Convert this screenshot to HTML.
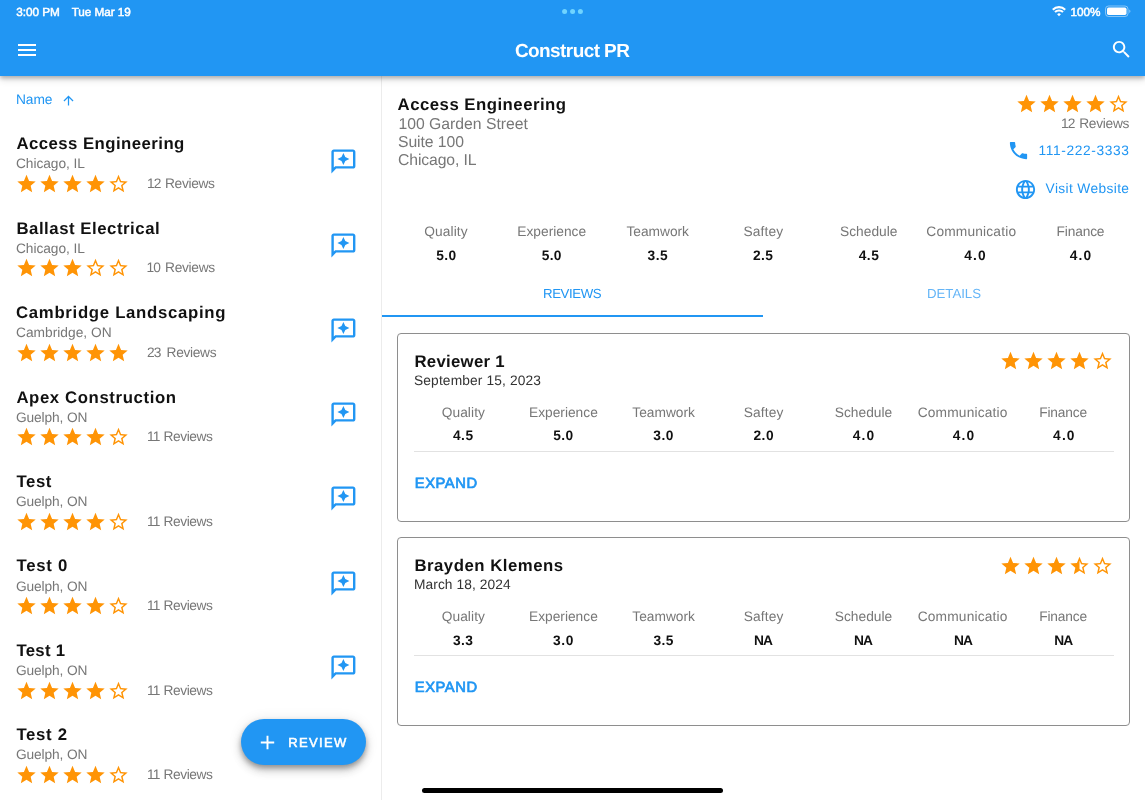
<!DOCTYPE html>
<html lang="en">
<head>
<meta charset="utf-8">
<title>Construct PR</title>
<style>
*{box-sizing:border-box;margin:0;padding:0}
html,body{width:1145px;height:800px;overflow:hidden;background:#fff}
body{font-family:"Liberation Sans",sans-serif;color:#111;position:relative;text-rendering:geometricPrecision}
.abs{position:absolute}
.t{position:absolute;white-space:nowrap;line-height:20px}
svg{display:block}
#hdr{position:absolute;left:0;top:0;width:1145px;height:76px;background:#2196f3;box-shadow:0 2px 4px rgba(0,0,0,.24),0 4px 7px rgba(0,0,0,.13)}
#vdiv{position:absolute;left:381px;top:76px;width:1px;height:724px;background:#ececec}
.card{position:absolute;left:397px;width:733px;height:188.500px;border:1px solid #8e8e8e;border-radius:4px;background:#fff}
.hr{position:absolute;left:413.500px;width:700px;height:1px;background:#e2e2e2}
#fab{position:absolute;left:241px;top:719.200px;width:125px;height:45.800px;border-radius:23px;background:#2196f3;box-shadow:0 3px 5px rgba(0,0,0,.28),0 6px 10px rgba(0,0,0,.16),0 1px 14px rgba(0,0,0,.1)}
#home{position:absolute;left:421.500px;top:787.500px;width:301.500px;height:5px;border-radius:2.500px;background:#000}
</style>
</head>
<body>
<div class="t" style="left:16px;top:90px;font-size:13.75px;letter-spacing:-0.1px;color:#2196f3">Name</div>
<svg class="abs" style="left:61.1px;top:93.1px" width="15" height="15" viewBox="0 0 24 24" fill="#2196f3"><path d="M4 12l1.410 1.410L11 7.830V20h2V7.830l5.580 5.590L20 12l-8-8-8 8z"/></svg>
<div class="t" style="left:16.4px;top:134px;font-size:16.75px;letter-spacing:0.46px;color:#111;font-weight:bold">Access Engineering</div><div class="t" style="left:16px;top:154px;font-size:13.75px;letter-spacing:-0.06px;color:#777">Chicago, IL</div><svg class="abs" style="left:15.3px;top:173px" width="115" height="22" viewBox="0 0 125.455 24" fill="#ff9405"><path transform="translate(0.545 0)" d="M12 17.27L18.18 21l-1.64-7.03L22 9.24l-7.19-.61L12 2 9.19 8.63 2 9.24l5.46 4.73L5.82 21z"/><path transform="translate(25.636 0)" d="M12 17.27L18.18 21l-1.64-7.03L22 9.24l-7.19-.61L12 2 9.19 8.63 2 9.24l5.46 4.73L5.82 21z"/><path transform="translate(50.727 0)" d="M12 17.27L18.18 21l-1.64-7.03L22 9.24l-7.19-.61L12 2 9.19 8.63 2 9.24l5.46 4.73L5.82 21z"/><path transform="translate(75.818 0)" d="M12 17.27L18.18 21l-1.64-7.03L22 9.24l-7.19-.61L12 2 9.19 8.63 2 9.24l5.46 4.73L5.82 21z"/><path transform="translate(100.909 0)" d="M22 9.24l-7.19-.62L12 2 9.19 8.63 2 9.24l5.46 4.73L5.82 21 12 17.27 18.18 21l-1.63-7.03L22 9.24zM12 15.4l-3.76 2.27 1-4.28-3.32-2.88 4.38-.38L12 6.1l1.71 4.04 4.38.38-3.32 2.88 1 4.28L12 15.4z"/></svg><div class="t" style="left:147px;top:174px;font-size:13.75px;color:#777"><span style="letter-spacing:-1px">12</span><span style="letter-spacing:-0.33px;margin-left:1.21px"> Reviews</span></div><svg class="abs" style="left:328.9px;top:146.6px" width="28.8" height="28.8" viewBox="0 0 24 24" fill="#2196f3"><path d="M20 2H4c-1.1 0-2 .9-2 2v18l4-4h14c1.1 0 2-.9 2-2V4c0-1.1-.9-2-2-2zm0 14H5.17L4 17.17V4h16v12z"/><path d="M12 15l1.57-3.43L17 10l-3.43-1.57L12 5l-1.57 3.43L7 10l3.43 1.570z"/></svg>
<div class="t" style="left:16.4px;top:219px;font-size:16.75px;letter-spacing:0.54px;color:#111;font-weight:bold">Ballast Electrical</div><div class="t" style="left:16px;top:239px;font-size:13.75px;letter-spacing:-0.06px;color:#777">Chicago, IL</div><svg class="abs" style="left:15.3px;top:257.4px" width="115" height="22" viewBox="0 0 125.455 24" fill="#ff9405"><path transform="translate(0.545 0)" d="M12 17.27L18.18 21l-1.64-7.03L22 9.24l-7.19-.61L12 2 9.19 8.63 2 9.24l5.46 4.73L5.82 21z"/><path transform="translate(25.636 0)" d="M12 17.27L18.18 21l-1.64-7.03L22 9.24l-7.19-.61L12 2 9.19 8.63 2 9.24l5.46 4.73L5.82 21z"/><path transform="translate(50.727 0)" d="M12 17.27L18.18 21l-1.64-7.03L22 9.24l-7.19-.61L12 2 9.19 8.63 2 9.24l5.46 4.73L5.82 21z"/><path transform="translate(75.818 0)" d="M22 9.24l-7.19-.62L12 2 9.19 8.63 2 9.24l5.46 4.73L5.82 21 12 17.27 18.18 21l-1.63-7.03L22 9.24zM12 15.4l-3.76 2.27 1-4.28-3.32-2.88 4.38-.38L12 6.1l1.71 4.04 4.38.38-3.32 2.88 1 4.28L12 15.4z"/><path transform="translate(100.909 0)" d="M22 9.24l-7.19-.62L12 2 9.19 8.63 2 9.24l5.46 4.73L5.82 21 12 17.27 18.18 21l-1.63-7.03L22 9.24zM12 15.4l-3.76 2.27 1-4.28-3.32-2.88 4.38-.38L12 6.1l1.71 4.04 4.38.38-3.32 2.88 1 4.28L12 15.4z"/></svg><div class="t" style="left:146.6px;top:258px;font-size:13.75px;color:#777"><span style="letter-spacing:-1px">10</span><span style="letter-spacing:-0.29px;margin-left:1.58px"> Reviews</span></div><svg class="abs" style="left:328.9px;top:231px" width="28.8" height="28.8" viewBox="0 0 24 24" fill="#2196f3"><path d="M20 2H4c-1.1 0-2 .9-2 2v18l4-4h14c1.1 0 2-.9 2-2V4c0-1.1-.9-2-2-2zm0 14H5.17L4 17.17V4h16v12z"/><path d="M12 15l1.57-3.43L17 10l-3.43-1.57L12 5l-1.57 3.43L7 10l3.43 1.570z"/></svg>
<div class="t" style="left:16px;top:303px;font-size:16.75px;letter-spacing:0.7px;color:#111;font-weight:bold">Cambridge Landscaping</div><div class="t" style="left:16px;top:323px;font-size:13.75px;letter-spacing:0.01px;color:#777">Cambridge, ON</div><svg class="abs" style="left:15.3px;top:341.9px" width="115" height="22" viewBox="0 0 125.455 24" fill="#ff9405"><path transform="translate(0.545 0)" d="M12 17.27L18.18 21l-1.64-7.03L22 9.24l-7.19-.61L12 2 9.19 8.63 2 9.24l5.46 4.73L5.82 21z"/><path transform="translate(25.636 0)" d="M12 17.27L18.18 21l-1.64-7.03L22 9.24l-7.19-.61L12 2 9.19 8.63 2 9.24l5.46 4.73L5.82 21z"/><path transform="translate(50.727 0)" d="M12 17.27L18.18 21l-1.64-7.03L22 9.24l-7.19-.61L12 2 9.19 8.63 2 9.24l5.46 4.73L5.82 21z"/><path transform="translate(75.818 0)" d="M12 17.27L18.18 21l-1.64-7.03L22 9.24l-7.19-.61L12 2 9.19 8.63 2 9.24l5.46 4.73L5.82 21z"/><path transform="translate(100.909 0)" d="M12 17.27L18.18 21l-1.64-7.03L22 9.24l-7.19-.61L12 2 9.19 8.63 2 9.24l5.46 4.73L5.82 21z"/></svg><div class="t" style="left:147px;top:343px;font-size:13.75px;color:#777"><span style="letter-spacing:-1px">23</span><span style="letter-spacing:-0.33px;margin-left:2.81px"> Reviews</span></div><svg class="abs" style="left:328.9px;top:315.5px" width="28.8" height="28.8" viewBox="0 0 24 24" fill="#2196f3"><path d="M20 2H4c-1.1 0-2 .9-2 2v18l4-4h14c1.1 0 2-.9 2-2V4c0-1.1-.9-2-2-2zm0 14H5.17L4 17.17V4h16v12z"/><path d="M12 15l1.57-3.43L17 10l-3.43-1.57L12 5l-1.57 3.43L7 10l3.43 1.570z"/></svg>
<div class="t" style="left:16.4px;top:388px;font-size:16.75px;letter-spacing:0.61px;color:#111;font-weight:bold">Apex Construction</div><div class="t" style="left:16px;top:408px;font-size:13.75px;letter-spacing:-0.13px;color:#777">Guelph, ON</div><svg class="abs" style="left:15.3px;top:426.3px" width="115" height="22" viewBox="0 0 125.455 24" fill="#ff9405"><path transform="translate(0.545 0)" d="M12 17.27L18.18 21l-1.64-7.03L22 9.24l-7.19-.61L12 2 9.19 8.63 2 9.24l5.46 4.73L5.82 21z"/><path transform="translate(25.636 0)" d="M12 17.27L18.18 21l-1.64-7.03L22 9.24l-7.19-.61L12 2 9.19 8.63 2 9.24l5.46 4.73L5.82 21z"/><path transform="translate(50.727 0)" d="M12 17.27L18.18 21l-1.64-7.03L22 9.24l-7.19-.61L12 2 9.19 8.63 2 9.24l5.46 4.73L5.82 21z"/><path transform="translate(75.818 0)" d="M12 17.27L18.18 21l-1.64-7.03L22 9.24l-7.19-.61L12 2 9.19 8.63 2 9.24l5.46 4.73L5.82 21z"/><path transform="translate(100.909 0)" d="M22 9.24l-7.19-.62L12 2 9.19 8.63 2 9.24l5.46 4.73L5.82 21 12 17.27 18.18 21l-1.63-7.03L22 9.24zM12 15.4l-3.76 2.27 1-4.28-3.32-2.88 4.38-.38L12 6.1l1.71 4.04 4.38.38-3.32 2.88 1 4.28L12 15.4z"/></svg><div class="t" style="left:147px;top:427px;font-size:13.75px;color:#777"><span style="letter-spacing:-1px">11</span><span style="letter-spacing:-0.41px;margin-left:0.78px"> Reviews</span></div><svg class="abs" style="left:328.9px;top:399.9px" width="28.8" height="28.8" viewBox="0 0 24 24" fill="#2196f3"><path d="M20 2H4c-1.1 0-2 .9-2 2v18l4-4h14c1.1 0 2-.9 2-2V4c0-1.1-.9-2-2-2zm0 14H5.17L4 17.17V4h16v12z"/><path d="M12 15l1.57-3.43L17 10l-3.43-1.57L12 5l-1.57 3.43L7 10l3.43 1.570z"/></svg>
<div class="t" style="left:16.4px;top:472px;font-size:16.75px;letter-spacing:0.6px;color:#111;font-weight:bold">Test</div><div class="t" style="left:16px;top:492px;font-size:13.75px;letter-spacing:-0.13px;color:#777">Guelph, ON</div><svg class="abs" style="left:15.3px;top:510.8px" width="115" height="22" viewBox="0 0 125.455 24" fill="#ff9405"><path transform="translate(0.545 0)" d="M12 17.27L18.18 21l-1.64-7.03L22 9.24l-7.19-.61L12 2 9.19 8.63 2 9.24l5.46 4.73L5.82 21z"/><path transform="translate(25.636 0)" d="M12 17.27L18.18 21l-1.64-7.03L22 9.24l-7.19-.61L12 2 9.19 8.63 2 9.24l5.46 4.73L5.82 21z"/><path transform="translate(50.727 0)" d="M12 17.27L18.18 21l-1.64-7.03L22 9.24l-7.19-.61L12 2 9.19 8.63 2 9.24l5.46 4.73L5.82 21z"/><path transform="translate(75.818 0)" d="M12 17.27L18.18 21l-1.64-7.03L22 9.24l-7.19-.61L12 2 9.19 8.63 2 9.24l5.46 4.73L5.82 21z"/><path transform="translate(100.909 0)" d="M22 9.24l-7.19-.62L12 2 9.19 8.63 2 9.24l5.46 4.73L5.82 21 12 17.27 18.18 21l-1.63-7.03L22 9.24zM12 15.4l-3.76 2.27 1-4.28-3.32-2.88 4.38-.38L12 6.1l1.71 4.04 4.38.38-3.32 2.88 1 4.28L12 15.4z"/></svg><div class="t" style="left:147px;top:512px;font-size:13.75px;color:#777"><span style="letter-spacing:-1px">11</span><span style="letter-spacing:-0.41px;margin-left:0.78px"> Reviews</span></div><svg class="abs" style="left:328.9px;top:484.4px" width="28.8" height="28.8" viewBox="0 0 24 24" fill="#2196f3"><path d="M20 2H4c-1.1 0-2 .9-2 2v18l4-4h14c1.1 0 2-.9 2-2V4c0-1.1-.9-2-2-2zm0 14H5.17L4 17.17V4h16v12z"/><path d="M12 15l1.57-3.43L17 10l-3.43-1.57L12 5l-1.57 3.43L7 10l3.43 1.570z"/></svg>
<div class="t" style="left:16.4px;top:556px;font-size:16.75px;letter-spacing:0.77px;color:#111;font-weight:bold">Test 0</div><div class="t" style="left:16px;top:577px;font-size:13.75px;letter-spacing:-0.13px;color:#777">Guelph, ON</div><svg class="abs" style="left:15.3px;top:595.2px" width="115" height="22" viewBox="0 0 125.455 24" fill="#ff9405"><path transform="translate(0.545 0)" d="M12 17.27L18.18 21l-1.64-7.03L22 9.24l-7.19-.61L12 2 9.19 8.63 2 9.24l5.46 4.73L5.82 21z"/><path transform="translate(25.636 0)" d="M12 17.27L18.18 21l-1.64-7.03L22 9.24l-7.19-.61L12 2 9.19 8.63 2 9.24l5.46 4.73L5.82 21z"/><path transform="translate(50.727 0)" d="M12 17.27L18.18 21l-1.64-7.03L22 9.24l-7.19-.61L12 2 9.19 8.63 2 9.24l5.46 4.73L5.82 21z"/><path transform="translate(75.818 0)" d="M12 17.27L18.18 21l-1.64-7.03L22 9.24l-7.19-.61L12 2 9.19 8.63 2 9.24l5.46 4.73L5.82 21z"/><path transform="translate(100.909 0)" d="M22 9.24l-7.19-.62L12 2 9.19 8.63 2 9.24l5.46 4.73L5.82 21 12 17.27 18.18 21l-1.63-7.03L22 9.24zM12 15.4l-3.76 2.27 1-4.28-3.32-2.88 4.38-.38L12 6.1l1.71 4.04 4.38.38-3.32 2.88 1 4.28L12 15.4z"/></svg><div class="t" style="left:147px;top:596px;font-size:13.75px;color:#777"><span style="letter-spacing:-1px">11</span><span style="letter-spacing:-0.41px;margin-left:0.78px"> Reviews</span></div><svg class="abs" style="left:328.9px;top:568.8px" width="28.8" height="28.8" viewBox="0 0 24 24" fill="#2196f3"><path d="M20 2H4c-1.1 0-2 .9-2 2v18l4-4h14c1.1 0 2-.9 2-2V4c0-1.1-.9-2-2-2zm0 14H5.17L4 17.17V4h16v12z"/><path d="M12 15l1.57-3.43L17 10l-3.43-1.57L12 5l-1.57 3.43L7 10l3.43 1.570z"/></svg>
<div class="t" style="left:16.4px;top:641px;font-size:16.75px;letter-spacing:0.29px;color:#111;font-weight:bold">Test 1</div><div class="t" style="left:16px;top:661px;font-size:13.75px;letter-spacing:-0.13px;color:#777">Guelph, ON</div><svg class="abs" style="left:15.3px;top:679.6px" width="115" height="22" viewBox="0 0 125.455 24" fill="#ff9405"><path transform="translate(0.545 0)" d="M12 17.27L18.18 21l-1.64-7.03L22 9.24l-7.19-.61L12 2 9.19 8.63 2 9.24l5.46 4.73L5.82 21z"/><path transform="translate(25.636 0)" d="M12 17.27L18.18 21l-1.64-7.03L22 9.24l-7.19-.61L12 2 9.19 8.63 2 9.24l5.46 4.73L5.82 21z"/><path transform="translate(50.727 0)" d="M12 17.27L18.18 21l-1.64-7.03L22 9.24l-7.19-.61L12 2 9.19 8.63 2 9.24l5.46 4.73L5.82 21z"/><path transform="translate(75.818 0)" d="M12 17.27L18.18 21l-1.64-7.03L22 9.24l-7.19-.61L12 2 9.19 8.63 2 9.24l5.46 4.73L5.82 21z"/><path transform="translate(100.909 0)" d="M22 9.24l-7.19-.62L12 2 9.19 8.63 2 9.24l5.46 4.73L5.82 21 12 17.27 18.18 21l-1.63-7.03L22 9.24zM12 15.4l-3.76 2.27 1-4.28-3.32-2.88 4.38-.38L12 6.1l1.71 4.04 4.38.38-3.32 2.88 1 4.28L12 15.4z"/></svg><div class="t" style="left:147px;top:681px;font-size:13.75px;color:#777"><span style="letter-spacing:-1px">11</span><span style="letter-spacing:-0.41px;margin-left:0.78px"> Reviews</span></div><svg class="abs" style="left:328.9px;top:653.2px" width="28.8" height="28.8" viewBox="0 0 24 24" fill="#2196f3"><path d="M20 2H4c-1.1 0-2 .9-2 2v18l4-4h14c1.1 0 2-.9 2-2V4c0-1.1-.9-2-2-2zm0 14H5.17L4 17.17V4h16v12z"/><path d="M12 15l1.57-3.43L17 10l-3.43-1.57L12 5l-1.57 3.43L7 10l3.43 1.570z"/></svg>
<div class="t" style="left:16.4px;top:725px;font-size:16.75px;letter-spacing:0.69px;color:#111;font-weight:bold">Test 2</div><div class="t" style="left:16px;top:745px;font-size:13.75px;letter-spacing:-0.13px;color:#777">Guelph, ON</div><svg class="abs" style="left:15.3px;top:764.1px" width="115" height="22" viewBox="0 0 125.455 24" fill="#ff9405"><path transform="translate(0.545 0)" d="M12 17.27L18.18 21l-1.64-7.03L22 9.24l-7.19-.61L12 2 9.19 8.63 2 9.24l5.46 4.73L5.82 21z"/><path transform="translate(25.636 0)" d="M12 17.27L18.18 21l-1.64-7.03L22 9.24l-7.19-.61L12 2 9.19 8.63 2 9.24l5.46 4.73L5.82 21z"/><path transform="translate(50.727 0)" d="M12 17.27L18.18 21l-1.64-7.03L22 9.24l-7.19-.61L12 2 9.19 8.63 2 9.24l5.46 4.73L5.82 21z"/><path transform="translate(75.818 0)" d="M12 17.27L18.18 21l-1.64-7.03L22 9.24l-7.19-.61L12 2 9.19 8.63 2 9.24l5.46 4.73L5.82 21z"/><path transform="translate(100.909 0)" d="M22 9.24l-7.19-.62L12 2 9.19 8.63 2 9.24l5.46 4.73L5.82 21 12 17.27 18.18 21l-1.63-7.03L22 9.24zM12 15.4l-3.76 2.27 1-4.28-3.32-2.88 4.38-.38L12 6.1l1.71 4.04 4.38.38-3.32 2.88 1 4.28L12 15.4z"/></svg><div class="t" style="left:147px;top:765px;font-size:13.75px;color:#777"><span style="letter-spacing:-1px">11</span><span style="letter-spacing:-0.41px;margin-left:0.78px"> Reviews</span></div>
<div id="vdiv"></div>
<div class="t" style="left:397.6px;top:95px;font-size:16.75px;letter-spacing:0.49px;color:#111;font-weight:bold">Access Engineering</div>
<div class="t" style="left:398.4px;top:115px;font-size:15.75px;letter-spacing:0px;color:#777">100 Garden Street</div><div class="t" style="left:398px;top:133px;font-size:15.75px;letter-spacing:-0.07px;color:#777">Suite 100</div><div class="t" style="left:398px;top:151px;font-size:15.75px;letter-spacing:-0.11px;color:#777">Chicago, IL</div>
<svg class="abs" style="left:1015.1px;top:92.8px" width="115" height="22" viewBox="0 0 125.455 24" fill="#ff9405"><path transform="translate(0.545 0)" d="M12 17.27L18.18 21l-1.64-7.03L22 9.24l-7.19-.61L12 2 9.19 8.63 2 9.24l5.46 4.73L5.82 21z"/><path transform="translate(25.636 0)" d="M12 17.27L18.18 21l-1.64-7.03L22 9.24l-7.19-.61L12 2 9.19 8.63 2 9.24l5.46 4.73L5.82 21z"/><path transform="translate(50.727 0)" d="M12 17.27L18.18 21l-1.64-7.03L22 9.24l-7.19-.61L12 2 9.19 8.63 2 9.24l5.46 4.73L5.82 21z"/><path transform="translate(75.818 0)" d="M12 17.27L18.18 21l-1.64-7.03L22 9.24l-7.19-.61L12 2 9.19 8.63 2 9.24l5.46 4.73L5.82 21z"/><path transform="translate(100.909 0)" d="M22 9.24l-7.19-.62L12 2 9.19 8.63 2 9.24l5.46 4.73L5.82 21 12 17.27 18.18 21l-1.63-7.03L22 9.24zM12 15.4l-3.76 2.27 1-4.28-3.32-2.88 4.38-.38L12 6.1l1.71 4.04 4.38.38-3.32 2.88 1 4.28L12 15.4z"/></svg>
<div class="t" style="left:1061px;top:114px;font-size:13.75px;color:#777"><span style="letter-spacing:-1px">12</span><span style="letter-spacing:-0.29px;margin-left:1.38px"> Reviews</span></div><svg class="abs" style="left:1007.1px;top:139.1px" width="23" height="23" viewBox="0 0 24 24" fill="#2196f3"><path d="M6.620 10.790c1.440 2.830 3.760 5.140 6.590 6.590l2.200-2.200c.270-.270.670-.360 1.020-.240 1.120.370 2.330.570 3.570.570.550 0 1 .450 1 1V20c0 .550-.450 1-1 1-9.390 0-17-7.610-17-17 0-.550.450-1 1-1h3.500c.550 0 1 .450 1 1 0 1.250.200 2.450.570 3.570.110.350.030.740-.250 1.020l-2.200 2.200z"/></svg><div class="t" style="left:1038.4px;top:141px;font-size:13.75px;letter-spacing:0.64px;color:#2196f3">111-222-3333</div>
<svg class="abs" style="left:1014.1px;top:177.5px" width="23" height="23" viewBox="0 0 24 24" fill="#2196f3"><path d="M11.990 2C6.470 2 2 6.480 2 12s4.470 10 9.990 10C17.520 22 22 17.520 22 12S17.520 2 11.990 2zm6.930 6h-2.950c-.320-1.250-.780-2.450-1.380-3.560 1.840.630 3.370 1.910 4.330 3.560zM12 4.040c.830 1.200 1.480 2.530 1.910 3.960h-3.820c.430-1.430 1.080-2.760 1.910-3.960zM4.260 14C4.100 13.360 4 12.690 4 12s.1-1.360.260-2h3.380c-.080.660-.140 1.320-.140 2 0 .680.060 1.340.140 2H4.260zm.820 2h2.950c.320 1.250.780 2.450 1.380 3.560-1.840-.630-3.370-1.900-4.330-3.560zm2.950-8H5.080c.960-1.660 2.490-2.930 4.330-3.560C8.810 5.550 8.350 6.750 8.030 8zM12 19.960c-.830-1.200-1.480-2.530-1.910-3.960h3.820c-.430 1.430-1.080 2.760-1.910 3.960zM14.340 14H9.660c-.090-.660-.160-1.320-.160-2 0-.680.070-1.350.160-2h4.680c.090.650.160 1.320.160 2 0 .680-.070 1.340-.160 2zm.250 5.560c.6-1.110 1.060-2.310 1.380-3.560h2.950c-.960 1.650-2.490 2.930-4.330 3.560zM16.360 14c.080-.660.140-1.320.140-2 0-.680-.060-1.340-.140-2h3.380c.160.640.260 1.310.260 2s-.1 1.360-.260 2h-3.380z"/></svg><div class="t" style="left:1045.6px;top:179px;font-size:13.75px;letter-spacing:0.37px;color:#2196f3">Visit Website</div>
<div class="t" style="left:424.35px;top:222px;font-size:13.75px;letter-spacing:0.08px;color:#777">Quality</div><div class="t" style="left:436.3px;top:246px;font-size:13.75px;letter-spacing:0.34px;color:#111;font-weight:bold">5.0</div>
<div class="t" style="left:517.3px;top:222px;font-size:13.75px;letter-spacing:0px;color:#777">Experience</div><div class="t" style="left:541.7px;top:246px;font-size:13.75px;letter-spacing:0.34px;color:#111;font-weight:bold">5.0</div>
<div class="t" style="left:626.4px;top:222px;font-size:13.75px;letter-spacing:-0.01px;color:#777">Teamwork</div><div class="t" style="left:647.6px;top:246px;font-size:13.75px;letter-spacing:0.44px;color:#111;font-weight:bold">3.5</div>
<div class="t" style="left:743.5px;top:222px;font-size:13.75px;letter-spacing:0.12px;color:#777">Saftey</div><div class="t" style="left:753px;top:246px;font-size:13.75px;letter-spacing:0.44px;color:#111;font-weight:bold">2.5</div>
<div class="t" style="left:840px;top:222px;font-size:13.75px;letter-spacing:0.01px;color:#777">Schedule</div><div class="t" style="left:858.7px;top:246px;font-size:13.75px;letter-spacing:0.54px;color:#111;font-weight:bold">4.5</div>
<div class="t" style="left:926.3px;top:222px;font-size:13.75px;letter-spacing:0.17px;color:#777">Communicatio</div><div class="t" style="left:964.3px;top:246px;font-size:13.75px;letter-spacing:1.14px;color:#111;font-weight:bold">4.0</div>
<div class="t" style="left:1056.5px;top:222px;font-size:13.75px;letter-spacing:-0.15px;color:#777">Finance</div><div class="t" style="left:1069.8px;top:246px;font-size:13.75px;letter-spacing:1.14px;color:#111;font-weight:bold">4.0</div>
<div class="t" style="left:543px;top:284px;font-size:13.25px;letter-spacing:-0.42px;color:#2196f3">REVIEWS</div><div class="t" style="left:927px;top:284px;font-size:13.25px;letter-spacing:-0.04px;color:#64b5f7">DETAILS</div>
<div class="abs" style="left:382px;top:315.400px;width:381px;height:2px;background:#2196f3"></div>
<div class="card" style="top:333px"></div>
<div class="t" style="left:414.4px;top:352px;font-size:16.75px;letter-spacing:0.3px;color:#111;font-weight:bold">Reviewer 1</div><div class="t" style="left:414px;top:371px;font-size:13.75px;letter-spacing:0.14px;color:#333">September 15, 2023</div><svg class="abs" style="left:998.6px;top:350.2px" width="115" height="22" viewBox="0 0 125.455 24" fill="#ff9405"><path transform="translate(0.545 0)" d="M12 17.27L18.18 21l-1.64-7.03L22 9.24l-7.19-.61L12 2 9.19 8.63 2 9.24l5.46 4.73L5.82 21z"/><path transform="translate(25.636 0)" d="M12 17.27L18.18 21l-1.64-7.03L22 9.24l-7.19-.61L12 2 9.19 8.63 2 9.24l5.46 4.73L5.82 21z"/><path transform="translate(50.727 0)" d="M12 17.27L18.18 21l-1.64-7.03L22 9.24l-7.19-.61L12 2 9.19 8.63 2 9.24l5.46 4.73L5.82 21z"/><path transform="translate(75.818 0)" d="M12 17.27L18.18 21l-1.64-7.03L22 9.24l-7.19-.61L12 2 9.19 8.63 2 9.24l5.46 4.73L5.82 21z"/><path transform="translate(100.909 0)" d="M22 9.24l-7.19-.62L12 2 9.19 8.63 2 9.24l5.46 4.73L5.82 21 12 17.27 18.18 21l-1.63-7.03L22 9.24zM12 15.4l-3.76 2.27 1-4.28-3.32-2.88 4.38-.38L12 6.1l1.71 4.04 4.38.38-3.32 2.88 1 4.28L12 15.4z"/></svg>
<div class="t" style="left:441.65px;top:403px;font-size:13.75px;letter-spacing:0.08px;color:#777">Quality</div><div class="t" style="left:452.9px;top:426px;font-size:13.75px;letter-spacing:0.54px;color:#111;font-weight:bold">4.5</div>
<div class="t" style="left:529px;top:403px;font-size:13.75px;letter-spacing:0px;color:#777">Experience</div><div class="t" style="left:553.3px;top:426px;font-size:13.75px;letter-spacing:0.34px;color:#111;font-weight:bold">5.0</div>
<div class="t" style="left:632.3px;top:403px;font-size:13.75px;letter-spacing:-0.01px;color:#777">Teamwork</div><div class="t" style="left:653.3px;top:426px;font-size:13.75px;letter-spacing:0.54px;color:#111;font-weight:bold">3.0</div>
<div class="t" style="left:743.7px;top:403px;font-size:13.75px;letter-spacing:0.12px;color:#777">Saftey</div><div class="t" style="left:753.4px;top:426px;font-size:13.75px;letter-spacing:0.54px;color:#111;font-weight:bold">2.0</div>
<div class="t" style="left:834.8px;top:403px;font-size:13.75px;letter-spacing:0.01px;color:#777">Schedule</div><div class="t" style="left:852.8px;top:426px;font-size:13.75px;letter-spacing:1.14px;color:#111;font-weight:bold">4.0</div>
<div class="t" style="left:917.7px;top:403px;font-size:13.75px;letter-spacing:0.17px;color:#777">Communicatio</div><div class="t" style="left:952.8px;top:426px;font-size:13.75px;letter-spacing:1.14px;color:#111;font-weight:bold">4.0</div>
<div class="t" style="left:1039.2px;top:403px;font-size:13.75px;letter-spacing:-0.15px;color:#777">Finance</div><div class="t" style="left:1053.1px;top:426px;font-size:13.75px;letter-spacing:1.14px;color:#111;font-weight:bold">4.0</div>
<div class="hr" style="top:451px"></div>
<div class="t" style="left:414.75px;top:474px;font-size:14.75px;letter-spacing:0.55px;color:#2196f3;-webkit-text-stroke:0.7px #2196f3">EXPAND</div>
<div class="card" style="top:537.3px"></div>
<div class="t" style="left:414.4px;top:556px;font-size:16.75px;letter-spacing:0.51px;color:#111;font-weight:bold">Brayden Klemens</div><div class="t" style="left:414px;top:575px;font-size:13.75px;letter-spacing:0.08px;color:#333">March 18, 2024</div><svg class="abs" style="left:998.6px;top:554.5px" width="115" height="22" viewBox="0 0 125.455 24" fill="#ff9405"><path transform="translate(0.545 0)" d="M12 17.27L18.18 21l-1.64-7.03L22 9.24l-7.19-.61L12 2 9.19 8.63 2 9.24l5.46 4.73L5.82 21z"/><path transform="translate(25.636 0)" d="M12 17.27L18.18 21l-1.64-7.03L22 9.24l-7.19-.61L12 2 9.19 8.63 2 9.24l5.46 4.73L5.82 21z"/><path transform="translate(50.727 0)" d="M12 17.27L18.18 21l-1.64-7.03L22 9.24l-7.19-.61L12 2 9.19 8.63 2 9.24l5.46 4.73L5.82 21z"/><path transform="translate(75.818 0)" d="M22 9.24l-7.19-.62L12 2 9.19 8.63 2 9.24l5.46 4.73L5.82 21 12 17.27 18.18 21l-1.63-7.03L22 9.24zM12 15.4V6.1l1.71 4.04 4.38.38-3.32 2.88 1 4.28L12 15.4z"/><path transform="translate(100.909 0)" d="M22 9.24l-7.19-.62L12 2 9.19 8.63 2 9.24l5.46 4.73L5.82 21 12 17.27 18.18 21l-1.63-7.03L22 9.24zM12 15.4l-3.76 2.27 1-4.28-3.32-2.88 4.38-.38L12 6.1l1.71 4.04 4.38.38-3.32 2.88 1 4.28L12 15.4z"/></svg>
<div class="t" style="left:441.65px;top:607px;font-size:13.75px;letter-spacing:0.08px;color:#777">Quality</div><div class="t" style="left:453px;top:631px;font-size:13.75px;letter-spacing:0.44px;color:#111;font-weight:bold">3.3</div>
<div class="t" style="left:529px;top:607px;font-size:13.75px;letter-spacing:0px;color:#777">Experience</div><div class="t" style="left:553.1px;top:631px;font-size:13.75px;letter-spacing:0.54px;color:#111;font-weight:bold">3.0</div>
<div class="t" style="left:632.3px;top:607px;font-size:13.75px;letter-spacing:-0.01px;color:#777">Teamwork</div><div class="t" style="left:653.4px;top:631px;font-size:13.75px;letter-spacing:0.44px;color:#111;font-weight:bold">3.5</div>
<div class="t" style="left:743.7px;top:607px;font-size:13.75px;letter-spacing:0.12px;color:#777">Saftey</div><div class="t" style="left:754px;top:631px;font-size:13.75px;letter-spacing:-0.86px;color:#111;font-weight:bold">NA</div>
<div class="t" style="left:834.8px;top:607px;font-size:13.75px;letter-spacing:0.01px;color:#777">Schedule</div><div class="t" style="left:854px;top:631px;font-size:13.75px;letter-spacing:-0.86px;color:#111;font-weight:bold">NA</div>
<div class="t" style="left:917.7px;top:607px;font-size:13.75px;letter-spacing:0.17px;color:#777">Communicatio</div><div class="t" style="left:954px;top:631px;font-size:13.75px;letter-spacing:-0.86px;color:#111;font-weight:bold">NA</div>
<div class="t" style="left:1039.2px;top:607px;font-size:13.75px;letter-spacing:-0.15px;color:#777">Finance</div><div class="t" style="left:1054.3px;top:631px;font-size:13.75px;letter-spacing:-0.86px;color:#111;font-weight:bold">NA</div>
<div class="hr" style="top:655.3px"></div>
<div class="t" style="left:414.75px;top:678px;font-size:14.75px;letter-spacing:0.55px;color:#2196f3;-webkit-text-stroke:0.7px #2196f3">EXPAND</div>
<div id="fab"></div><svg class="abs" style="left:256.2px;top:731px" width="23" height="23" viewBox="0 0 24 24" fill="#fff"><path d="M19 13h-6v6h-2v-6H5v-2h6V5h2v6h6v2z"/></svg><div class="t" style="left:288.27px;top:733px;font-size:13px;letter-spacing:1.35px;color:#fff;-webkit-text-stroke:0.55px #fff">REVIEW</div>
<div id="hdr"></div>
<div class="t" style="left:16.25px;top:3px;font-size:11.75px;letter-spacing:-0.04px;color:#fff;-webkit-text-stroke:0.5px #fff">3:00 PM</div><div class="t" style="left:71.65px;top:3px;font-size:11.75px;letter-spacing:-0.06px;color:#fff;-webkit-text-stroke:0.5px #fff">Tue Mar 19</div><svg class="abs" style="left:561px;top:8px" width="24" height="7" viewBox="0 0 24 7" fill="#70d4ff"><circle cx="3.600" cy="3.400" r="2.500"/><circle cx="11.600" cy="3.400" r="2.500"/><circle cx="19.400" cy="3.400" r="2.500"/></svg><svg class="abs" style="left:1051px;top:5px" width="16" height="12" viewBox="0 0 16 12" fill="none" stroke="#fff" stroke-width="2.100"><path d="M1.800 4.700a8.800 8.800 0 0 1 12.400 0"/><path d="M4 7.100a5.700 5.700 0 0 1 8 0"/><path d="M6.100 9.200a2.700 2.700 0 0 1 3.800 0L8 11.200z" fill="#fff" stroke="none"/></svg><div class="t" style="left:1070.45px;top:3px;font-size:11.75px;letter-spacing:0.01px;color:#fff;-webkit-text-stroke:0.5px #fff">100%</div><svg class="abs" style="left:1105px;top:5px" width="27" height="13" viewBox="0 0 27 13"><rect x=".5" y="1" width="22.500" height="10.500" rx="3" fill="none" stroke="#fff" stroke-opacity=".45"/><rect x="2" y="2.500" width="19.500" height="7.500" rx="1.700" fill="#fff"/><path d="M24.300 4.600c1.500.4 1.500 2.900 0 3.300z" fill="#fff" fill-opacity=".5"/></svg>
<svg class="abs" style="left:15px;top:38.2px" width="24" height="24" viewBox="0 0 24 24" fill="#fff"><path d="M3 18h18v-2H3v2zm0-5h18v-2H3v2zm0-7v2h18V6H3z"/></svg><div class="t" style="left:514.9px;top:42px;font-size:19px;letter-spacing:-0.58px;color:#fff;font-weight:bold">Construct PR</div><svg class="abs" style="left:1110.3px;top:38.1px" width="23" height="23" viewBox="0 0 24 24" fill="#fff"><path d="M15.500 14h-.790l-.280-.270C15.410 12.590 16 11.110 16 9.500 16 5.910 13.090 3 9.500 3S3 5.910 3 9.500 5.910 16 9.500 16c1.610 0 3.090-.590 4.230-1.570l.270.280v.790l5 4.990L20.490 19l-4.990-5zm-6 0C7.010 14 5 11.990 5 9.500S7.010 5 9.500 5 14 7.010 14 9.500 11.990 14 9.500 14z"/></svg>
<div id="home"></div>
</body>
</html>
